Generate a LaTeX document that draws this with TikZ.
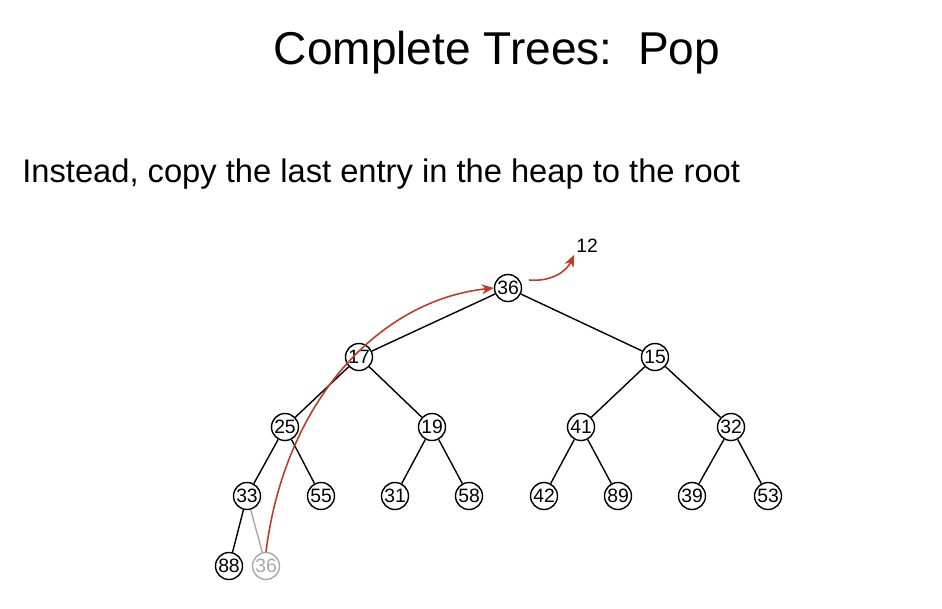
\documentclass[tikz,border=0pt]{standalone}
\usepackage{fontspec}
\setmainfont{Liberation Sans}
\usepackage{xcolor}
\usetikzlibrary{arrows.meta}
\definecolor{popred}{RGB}{192,58,40}
\definecolor{lastgray}{RGB}{168,168,168}
\tikzset{
  hn/.style={draw, circle, line width=0.8pt, inner sep=0pt, minimum size=5.4mm, font=\fontsize{11}{12}\selectfont},
  gn/.style={hn, draw=lastgray, text=lastgray},
  edge/.style={line width=0.8pt},
  redarr/.style={draw=popred, line width=0.9pt, -{Stealth[length=2.4mm, width=2mm]}},
}
\begin{document}
\begin{tikzpicture}[x=0.2mm, y=-0.2mm]
\useasboundingbox (0,0) rectangle (942,608);
\node[font=\fontsize{26.2}{30}\selectfont, anchor=base] (title) at (497,64) {Complete Trees:\ \ Pop};
\node[font=\fontsize{18.6}{22}\selectfont, anchor=base west, inner sep=0pt] (sub) at (22,182) {Instead, copy the last entry in the heap to the root};
% the heap
\node[hn] (r) at (508,288) {36};
\node[hn] (a) at (359,357) {17};
\node[hn] (b) at (655,357) {15};
\node[hn] (aa) at (285,427) {25};
\node[hn] (ab) at (432,427) {19};
\node[hn] (ba) at (581,427) {41};
\node[hn] (bb) at (731,427) {32};
\node[hn] (aaa) at (247,496) {33};
\node[hn] (aab) at (321,496) {55};
\node[hn] (aba) at (395,496) {31};
\node[hn] (abb) at (469,496) {58};
\node[hn] (baa) at (544,496) {42};
\node[hn] (bab) at (618,496) {89};
\node[hn] (bba) at (692,496) {39};
\node[hn] (bbb) at (768,496) {53};
\node[hn] (aaaa) at (229,566) {88};
\node[gn] (last) at (266,566) {36};
\node[font=\fontsize{11}{12}\selectfont, inner sep=1pt] (out) at (587,246) {12};
\foreach \p/\c in {r/a,r/b,a/aa,a/ab,b/ba,b/bb,aa/aaa,aa/aab,ab/aba,ab/abb,ba/baa,ba/bab,bb/bba,bb/bbb,aaa/aaaa}
  \draw[edge] (\p) -- (\c);
\draw[edge, lastgray] (aaa) -- (last);
% copy last entry up, old root out
\draw[redarr] (last.north) .. controls (285,400) and (380,300) .. (r.west);
\draw[redarr] (r.east) ++(7,-8) coordinate (rr) to[out=-5, in=-115] (out.south west);
\end{tikzpicture}
\end{document}
